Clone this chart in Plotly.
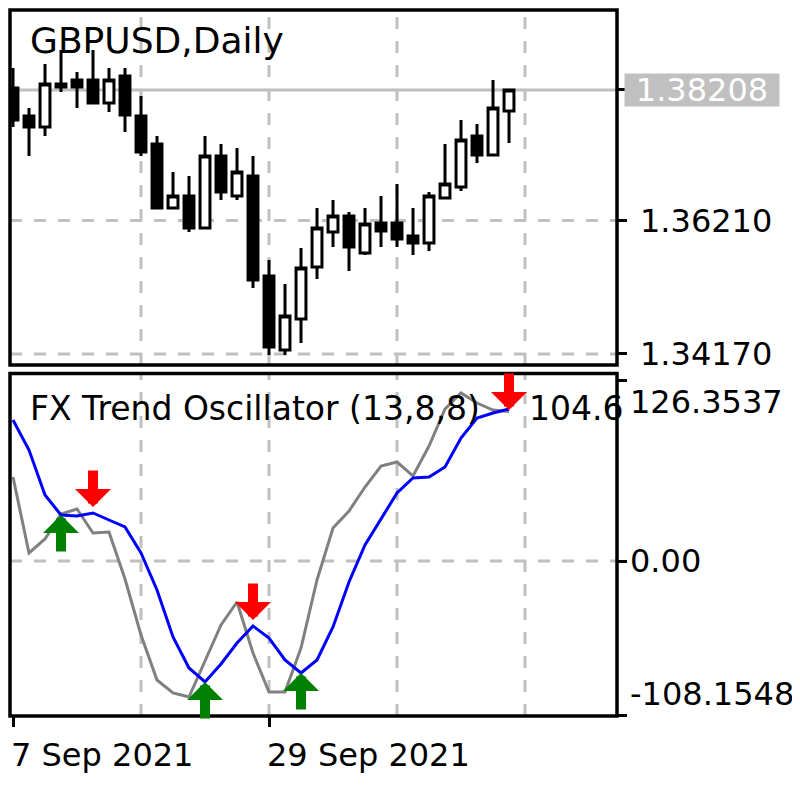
import plotly.graph_objects as go
from datetime import date

# ---------------- data ----------------
dates = ["2021-09-07", "2021-09-08", "2021-09-09", "2021-09-10", "2021-09-13", "2021-09-14",
         "2021-09-15", "2021-09-16", "2021-09-17", "2021-09-20", "2021-09-21", "2021-09-22",
         "2021-09-23", "2021-09-24", "2021-09-27", "2021-09-28", "2021-09-29", "2021-09-30",
         "2021-10-01", "2021-10-04", "2021-10-05", "2021-10-06", "2021-10-07", "2021-10-08",
         "2021-10-11", "2021-10-12", "2021-10-13", "2021-10-14", "2021-10-15", "2021-10-18",
         "2021-10-19", "2021-10-20"]

open_prices = [1.38239, 1.37810, 1.37642, 1.38300, 1.38361, 1.38361, 1.38009, 1.38422,
               1.37810, 1.37382, 1.36403, 1.36586, 1.36097, 1.37198, 1.36586, 1.36892,
               1.35362, 1.34230, 1.34704, 1.35500, 1.36035, 1.36280, 1.35714, 1.36173,
               1.36173, 1.35974, 1.35867, 1.36556, 1.36724, 1.37504, 1.37214, 1.37887]
high_prices = [1.38545, 1.37933, 1.38606, 1.38820, 1.38483, 1.38820, 1.38545, 1.38545,
               1.38116, 1.37504, 1.36953, 1.36892, 1.37504, 1.37382, 1.37321, 1.37198,
               1.35607, 1.35240, 1.35791, 1.36403, 1.36525, 1.36341, 1.36403, 1.36586,
               1.36770, 1.36403, 1.36647, 1.37382, 1.37749, 1.37688, 1.38361, 1.38215]
low_prices = [1.37642, 1.37198, 1.37504, 1.38177, 1.37933, 1.38009, 1.37871, 1.37565,
              1.37198, 1.36403, 1.36403, 1.36035, 1.36097, 1.36525, 1.36525, 1.35179,
              1.34154, 1.34154, 1.34337, 1.35316, 1.35806, 1.35439, 1.35684, 1.35806,
              1.35806, 1.35684, 1.35745, 1.36556, 1.36663, 1.37091, 1.37214, 1.37397]
close_prices = [1.37749, 1.37642, 1.38300, 1.38254, 1.38254, 1.38009, 1.38361, 1.37826,
                1.37259, 1.36403, 1.36586, 1.36097, 1.37198, 1.36647, 1.36953, 1.35301,
                1.34276, 1.34750, 1.35485, 1.36097, 1.36280, 1.35806, 1.36158, 1.36051,
                1.35928, 1.35867, 1.36586, 1.36770, 1.37443, 1.37214, 1.37933, 1.38208]

osc_main = [58.8, 5.6, 15.4, 32.9, 36.4, 19.6, 20.3, -12.6, -51.8, -83.3, -92.4, -95.2,
            -70.0, -44.8, -28.7, -64.4, -91.7, -91.7, -60.9, -13.3, 23.1, 35.0, 51.8, 66.5,
            69.3, 59.5, 80.5, 106.4, 117.6, 110.6, 105.7, 104.6]
osc_signal = [98.7, 77.7, 46.2, 32.2, 31.5, 33.6, 28.7, 23.8, 5.6, -20.3, -53.2, -74.9,
              -84.7, -72.1, -57.4, -45.5, -53.9, -69.3, -78.4, -69.3, -46.2, -14.7, 11.2, 29.4,
              47.6, 58.1, 58.8, 65.8, 86.1, 100.1, 103.6, 106.4]

buy_bars = [3, 12, 18]
buy_values = [32.2, -84.7, -78.4]
sell_bars = [5, 15, 31]
sell_values = [37.8, -41.3, 105.7]

price_grid = [1.36210, 1.34170]
osc_levels = [126.3537, 0.0, -108.1548]
osc_level_text = ["126.3537", "0.00", "-108.1548"]
osc_grid = [0.0]
date_ticks = [0, 16]
grid_bars = [8, 16, 24, 32]

symbol_title = "GBPUSD,Daily"
indicator_title = "FX Trend Oscillator (13,8,8)"
indicator_value = "104.6"

# ---------------- figure ----------------
OFF = 8            # page body margin of the browser
W = H = 800 - OFF
FONT = "DejaVu Sans"
GRID = "#C0C0C0"
idx = list(range(len(dates)))


def px_x(p):
    return (p - OFF) / W


def px_y(p):
    return 1 - (p - OFF) / H


X_DOM = [px_x(10), px_x(617)]
TOP_DOM = [px_y(365), px_y(10)]
BOT_DOM = [px_y(716), px_y(373.5)]
X_RANGE = [-0.1875, 37.75]

fig = go.Figure()

fig.add_trace(go.Candlestick(
    x=idx, open=open_prices, high=high_prices, low=low_prices, close=close_prices,
    xaxis="x", yaxis="y", whiskerwidth=0,
    increasing=dict(line=dict(color="black", width=3), fillcolor="white"),
    decreasing=dict(line=dict(color="black", width=3), fillcolor="black"),
    hoverinfo="skip", showlegend=False,
))

fig.add_trace(go.Scatter(x=idx, y=osc_main, xaxis="x2", yaxis="y2", mode="lines",
                         line=dict(color="#808080", width=3), hoverinfo="skip", showlegend=False))
fig.add_trace(go.Scatter(x=idx, y=osc_signal, xaxis="x2", yaxis="y2", mode="lines",
                         line=dict(color="#0000FF", width=3), hoverinfo="skip", showlegend=False))

shapes = []
grid_line = dict(color=GRID, width=3, dash="12px,12px")
for g in grid_bars:
    shapes.append(dict(type="line", xref="x", yref="y domain", x0=g, x1=g, y0=0, y1=1,
                       line=grid_line, layer="below"))
    shapes.append(dict(type="line", xref="x2", yref="y2 domain", x0=g, x1=g, y0=0, y1=1,
                       line=grid_line, layer="below"))
for p in price_grid:
    shapes.append(dict(type="line", xref="x domain", yref="y", x0=0, x1=1, y0=p, y1=p,
                       line=grid_line, layer="below"))
for v in osc_grid:
    shapes.append(dict(type="line", xref="x2 domain", yref="y2", x0=0, x1=1, y0=v, y1=v,
                       line=grid_line, layer="below"))
# current price line
shapes.append(dict(type="line", xref="x domain", yref="y", x0=0, x1=1,
                   y0=close_prices[-1], y1=close_prices[-1],
                   line=dict(color=GRID, width=3), layer="below"))
# panel borders
for dom in (TOP_DOM, BOT_DOM):
    shapes.append(dict(type="rect", xref="paper", yref="paper", x0=X_DOM[0], x1=X_DOM[1],
                       y0=dom[0], y1=dom[1], line=dict(color="black", width=3.5),
                       fillcolor="rgba(0,0,0,0)", layer="above"))

annotations = []
label_font = dict(family=FONT, size=32, color="black")

annotations.append(dict(text=symbol_title, xref="paper", yref="paper", x=px_x(28), y=px_y(41),
                        xanchor="left", yanchor="middle", showarrow=False,
                        font=dict(family=FONT, size=36, color="black")))
annotations.append(dict(text=indicator_title, xref="paper", yref="paper", x=px_x(28), y=px_y(409),
                        xanchor="left", yanchor="middle", showarrow=False,
                        font=dict(family=FONT, size=33, color="black")))
annotations.append(dict(text=indicator_value, xref="paper", yref="paper", x=px_x(527), y=px_y(409),
                        xanchor="left", yanchor="middle", showarrow=False,
                        font=dict(family=FONT, size=33, color="black")))

# price scale labels
for p in price_grid:
    annotations.append(dict(text=f"{p:.5f}", xref="paper", yref="y", x=px_x(638), y=p,
                            xanchor="left", yanchor="middle", showarrow=False, font=label_font))
annotations.append(dict(text=f"{close_prices[-1]:.5f}", xref="paper", yref="y", x=px_x(624),
                        y=close_prices[-1], xanchor="left", yanchor="middle", showarrow=False,
                        bgcolor=GRID, width=154, height=32, borderpad=0,
                        font=dict(family=FONT, size=32, color="white")))

# oscillator scale labels
shifts = [-22, 0, 22]
for v, t, s in zip(osc_levels, osc_level_text, shifts):
    annotations.append(dict(text=t, xref="paper", yref="y2", x=px_x(628), y=v, yshift=s,
                            xanchor="left", yanchor="middle", showarrow=False, font=label_font))

# date labels
for i in date_ticks:
    d = date.fromisoformat(dates[i])
    annotations.append(dict(text=f"{d.day} {d.strftime('%b %Y')}", xref="x2", yref="paper",
                            x=i, y=px_y(755), xshift=-4, xanchor="left", yanchor="middle",
                            showarrow=False, font=label_font))

# signal arrows
for b, v in zip(buy_bars, buy_values):
    annotations.append(dict(text="", x=b, y=v, xref="x2", yref="y2", showarrow=True,
                            ax=0, ay=38, arrowhead=1, arrowsize=0.6, arrowwidth=10,
                            arrowcolor="#008000", standoff=0))
for b, v in zip(sell_bars, sell_values):
    annotations.append(dict(text="", x=b, y=v, xref="x2", yref="y2", showarrow=True,
                            ax=0, ay=-38, arrowhead=1, arrowsize=0.6, arrowwidth=10,
                            arrowcolor="#FF0000", standoff=0))

tick_style = dict(ticks="outside", ticklen=9, tickwidth=3, tickcolor="black",
                  showticklabels=False, showgrid=False, zeroline=False, showline=False,
                  automargin=False)

fig.update_layout(
    width=W, height=H, margin=dict(l=0, r=0, t=0, b=0),
    paper_bgcolor="white", plot_bgcolor="white", showlegend=False,
    boxgap=0.38, boxgroupgap=0,
    xaxis=dict(domain=X_DOM, range=X_RANGE, anchor="y", showticklabels=False, ticks="",
               showgrid=False, zeroline=False, showline=False, rangeslider=dict(visible=False),
               automargin=False),
    yaxis=dict(domain=TOP_DOM, range=[1.34000, 1.39432], anchor="x", side="right",
               tickvals=[close_prices[-1]] + price_grid, **tick_style),
    xaxis2=dict(domain=X_DOM, range=X_RANGE, anchor="y2", matches="x",
                tickvals=date_ticks, ticktext=["" for _ in date_ticks],
                ticks="outside", ticklen=10, tickwidth=3, tickcolor="black",
                showgrid=False, zeroline=False, showline=False, automargin=False),
    yaxis2=dict(domain=BOT_DOM, range=[-108.5, 131.25], anchor="x2", side="right",
                tickvals=osc_levels, **tick_style),
    shapes=shapes, annotations=annotations,
)

fig.write_html("out.html")
